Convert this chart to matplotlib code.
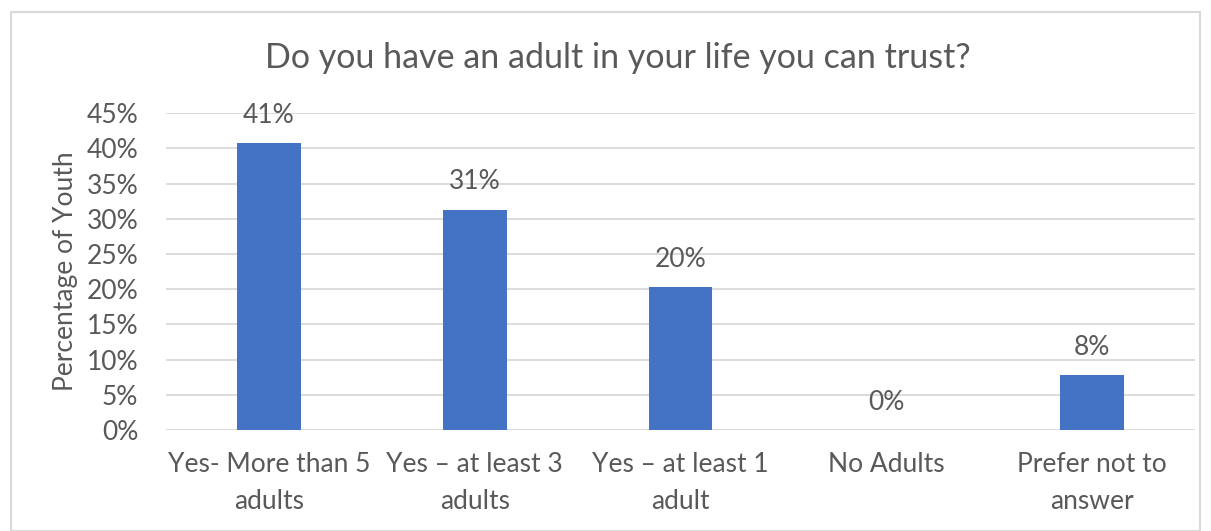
import matplotlib.pyplot as plt
from matplotlib.patches import Rectangle

categories = ["Yes- More than 5\nadults", "Yes \u2013 at least 3\nadults",
              "Yes \u2013 at least 1\nadult", "No Adults", "Prefer not to\nanswer"]
values = [40.7, 31.3, 20.3, 0.0, 7.8]
labels = ["41%", "31%", "20%", "0%", "8%"]
yticks = [0, 5, 10, 15, 20, 25, 30, 35, 40, 45]

plt.rcParams['font.family'] = ['Lato', 'DejaVu Sans']
text_color = '#595959'

fig = plt.figure(figsize=(12.11, 5.31), dpi=100)
ax = fig.add_axes([0.137, 0.190, 0.850, 0.597])

x = range(len(categories))
ax.bar(x, values, width=0.31, color='#4472C4', zorder=3)
for i, (v, lab) in enumerate(zip(values, labels)):
    ax.text(i, v + 2.2, lab, ha='center', va='bottom', fontsize=19, color=text_color)

ax.set_xlim(-0.5, len(categories) - 0.5)
ax.set_ylim(0, 45)
ax.set_yticks(yticks)
ax.set_yticklabels([f"{t}%" for t in yticks], fontsize=19, color=text_color)
ax.set_xticks(list(x))
ax.set_xticklabels(categories, fontsize=19, color=text_color, linespacing=1.6)
ax.tick_params(axis='both', length=0)
ax.tick_params(axis='y', pad=20)
ax.tick_params(axis='x', pad=16)
ax.grid(axis='y', color='#D9D9D9', linewidth=1.3, zorder=0)
for s in ax.spines.values():
    s.set_visible(False)
ax.axhline(0, color='#D9D9D9', linewidth=1.3, zorder=1)

ax.set_ylabel("Percentage of Youth", fontsize=19, color=text_color, labelpad=6)
fig.text(0.51, 0.89, "Do you have an adult in your life you can trust?",
         ha='center', va='center', fontsize=24.5, color=text_color)

fig.patches.append(Rectangle((11 / 1211, 0), 1 - 22 / 1211, 1 - 12 / 531,
                             transform=fig.transFigure, fill=False,
                             edgecolor='#D9D9D9', linewidth=1.5))

fig.savefig("out.png", dpi=100)
